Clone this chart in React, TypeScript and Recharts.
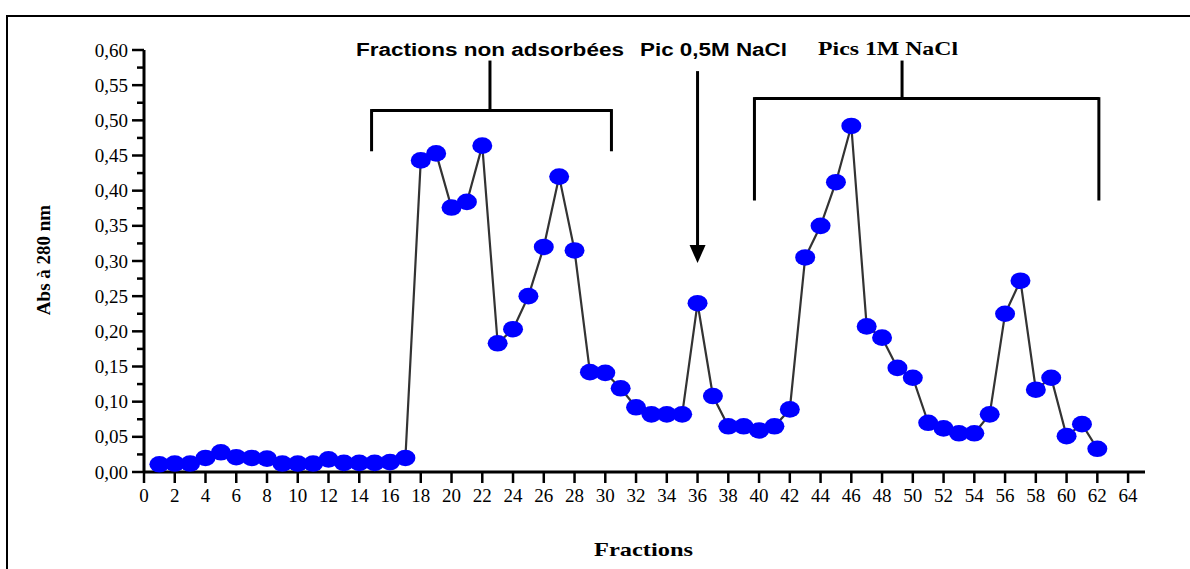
import React from 'react';
import { LineChart, Line, XAxis, YAxis, ReferenceLine, ReferenceDot } from 'recharts';

// fractions collected and absorbance read at 280 nm
const fractions = [
    1, 2, 3, 4, 5, 6, 7, 8, 9, 10, 11, 12, 13, 14, 15, 16, 17, 18, 19, 20, 21,
    22, 23, 24, 25, 26, 27, 28, 29, 30, 31, 32, 33, 34, 35, 36, 37, 38, 39, 40, 41,
    42, 43, 44, 45, 46, 47, 48, 49, 50, 51, 52, 53, 54, 55, 56, 57, 58, 59, 60, 61, 62,
];
const absorbance = [
    0.011, 0.012, 0.012, 0.020, 0.028, 0.021, 0.020, 0.019, 0.012, 0.012,
    0.012, 0.018, 0.013, 0.013, 0.013, 0.014, 0.020, 0.443, 0.453, 0.376,
    0.384, 0.464, 0.183, 0.203, 0.250, 0.320, 0.420, 0.315, 0.142, 0.141,
    0.119, 0.092, 0.082, 0.082, 0.082, 0.240, 0.108, 0.065, 0.065, 0.059,
    0.065, 0.089, 0.305, 0.350, 0.412, 0.492, 0.207, 0.191, 0.148, 0.134,
    0.070, 0.062, 0.055, 0.055, 0.082, 0.225, 0.272, 0.117, 0.134, 0.051,
    0.068, 0.033,
];
const xTicks = [0, 2, 4, 6, 8, 10, 12, 14, 16, 18, 20, 22, 24, 26, 28, 30, 32, 34, 36, 38, 40, 42, 44, 46, 48, 50, 52, 54, 56, 58, 60, 62, 64];
const yTicks = [
    0, 0.025, 0.05, 0.075, 0.1, 0.125, 0.15, 0.175, 0.2, 0.225, 0.25, 0.275, 0.3,
    0.325, 0.35, 0.375, 0.4, 0.425, 0.45, 0.475, 0.5, 0.525, 0.55, 0.575, 0.6,
];

const data = fractions.map((f, i) => ({ fraction: f, abs: absorbance[i] }));

const SERIF = '"Liberation Serif", "Times New Roman", serif';
const SANS = '"Liberation Sans", Arial, sans-serif';
const Y_TICK_SIZE = 12;
const Y_TICK_MARGIN = 4;

const fmt = (v: number) => v.toFixed(2).replace('.', ',');

const YTick = (props: any) => {
    const { x, y, payload } = props;
    const ax = x + Y_TICK_SIZE + Y_TICK_MARGIN;
    const v = payload.value;
    const major = Math.round(v * 1000) % 50 === 0;
    return (
        <g>
            <line x1={ax} x2={ax - (major ? 12 : 7)} y1={y} y2={y} stroke="#000" strokeWidth={2.5} />
            {major && (
                <text x={ax - 16} y={y} dy="0.35em" textAnchor="end" fontFamily={SERIF} fontSize={19} fill="#000">
                    {fmt(v)}
                </text>
            )}
        </g>
    );
};

const Dot = (props: any) => {
    const { cx, cy, index } = props;
    if (cx == null || cy == null) return null;
    return <ellipse key={`dot-${index}`} cx={cx} cy={cy} rx={10} ry={8.3} fill="#0000FF" />;
};

const ArrowHead = (props: any) => {
    const { cx, cy } = props;
    return <polygon points={`${cx},${cy} ${cx - 8},${cy - 18} ${cx + 8},${cy - 18}`} fill="#000" />;
};

const bracket = { stroke: '#000', strokeWidth: 3, ifOverflow: 'visible' as const };

const App: React.FC = () => {
    return (
        <div style={{ position: 'absolute', left: 0, top: 0, width: 1190, height: 569, overflow: 'hidden', background: '#fff' }}>
            {/* outer frame */}
            <div style={{ position: 'absolute', left: 6, top: 15, width: 1400, height: 800, border: '2px solid #000' }} />
            <div style={{ position: 'absolute', left: 0, top: 0 }}>
                <LineChart width={1190} height={569} data={data} margin={{ top: 50, right: 45, bottom: 57, left: 64 }}>
                    <XAxis
                        dataKey="fraction"
                        type="number"
                        domain={[0, 65.1]}
                        ticks={xTicks}
                        interval={0}
                        height={40}
                        tickSize={11}
                        tickMargin={6}
                        axisLine={{ stroke: '#000', strokeWidth: 3 }}
                        tickLine={{ stroke: '#000', strokeWidth: 2.5 }}
                        tick={{ fill: '#000', fontSize: 19, fontFamily: SERIF }}
                    />
                    <YAxis
                        type="number"
                        domain={[0, 0.6]}
                        ticks={yTicks}
                        interval={0}
                        width={80}
                        tickSize={Y_TICK_SIZE}
                        tickMargin={Y_TICK_MARGIN}
                        axisLine={{ stroke: '#000', strokeWidth: 3 }}
                        tickLine={false}
                        tick={<YTick />}
                    />
                    {/* Fractions non adsorbées */}
                    <ReferenceLine segment={[{ x: 14.8, y: 0.514 }, { x: 30.4, y: 0.514 }]} {...bracket} />
                    <ReferenceLine segment={[{ x: 14.8, y: 0.516 }, { x: 14.8, y: 0.456 }]} {...bracket} />
                    <ReferenceLine segment={[{ x: 30.4, y: 0.516 }, { x: 30.4, y: 0.456 }]} {...bracket} />
                    <ReferenceLine segment={[{ x: 22.5, y: 0.514 }, { x: 22.5, y: 0.585 }]} {...bracket} />
                    {/* Pic 0,5M NaCl */}
                    <ReferenceLine segment={[{ x: 36, y: 0.57 }, { x: 36, y: 0.32 }]} {...bracket} />
                    <ReferenceDot x={36} y={0.297} r={0} ifOverflow="visible" shape={<ArrowHead />} />
                    {/* Pics 1M NaCl */}
                    <ReferenceLine segment={[{ x: 39.7, y: 0.531 }, { x: 62.1, y: 0.531 }]} {...bracket} />
                    <ReferenceLine segment={[{ x: 39.7, y: 0.533 }, { x: 39.7, y: 0.386 }]} {...bracket} />
                    <ReferenceLine segment={[{ x: 62.1, y: 0.533 }, { x: 62.1, y: 0.386 }]} {...bracket} />
                    <ReferenceLine segment={[{ x: 49.3, y: 0.531 }, { x: 49.3, y: 0.585 }]} {...bracket} />
                    <Line
                        type="linear"
                        dataKey="abs"
                        stroke="#333"
                        strokeWidth={2.2}
                        dot={<Dot />}
                        activeDot={false}
                        isAnimationActive={false}
                    />
                </LineChart>
            </div>
            <svg width={1190} height={569} style={{ position: 'absolute', left: 0, top: 0, pointerEvents: 'none' }}>
                <text x={356} y={55.5} fontFamily={SANS} fontWeight="bold" fontSize={18} textLength={268} lengthAdjust="spacingAndGlyphs">
                    Fractions non adsorbées
                </text>
                <text x={640} y={55.5} fontFamily={SANS} fontWeight="bold" fontSize={18} textLength={147} lengthAdjust="spacingAndGlyphs">
                    Pic 0,5M NaCl
                </text>
                <text x={818} y={55} fontFamily={SERIF} fontWeight="bold" fontSize={19} textLength={140} lengthAdjust="spacingAndGlyphs">
                    Pics 1M NaCl
                </text>
                <text x={594} y={556} fontFamily={SERIF} fontWeight="bold" fontSize={19.5} textLength={99} lengthAdjust="spacingAndGlyphs">
                    Fractions
                </text>
                <text
                    x={0}
                    y={0}
                    transform="translate(50 260) rotate(-90)"
                    textAnchor="middle"
                    fontFamily={SERIF}
                    fontWeight="bold"
                    fontSize={19}
                >
                    Abs à 280 nm
                </text>
            </svg>
        </div>
    );
};

export default App;
